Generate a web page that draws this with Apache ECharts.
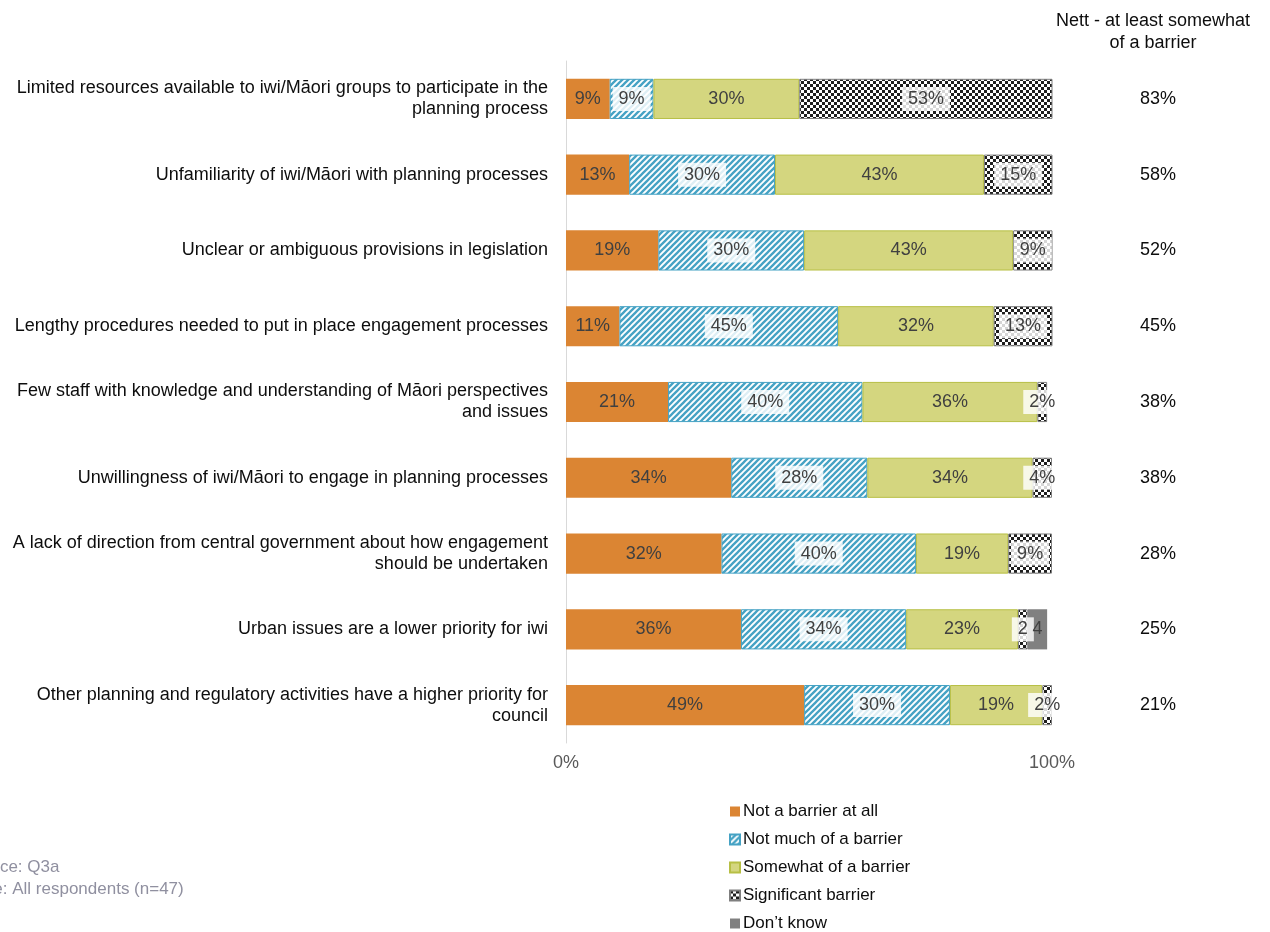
<!DOCTYPE html>
<html>
<head>
<meta charset="utf-8">
<script src="https://cdn.jsdelivr.net/npm/echarts@6/dist/echarts.min.js"></script>
<style>
  html, body { margin: 0; padding: 0; background: #ffffff; }
  #chart { width: 1270px; height: 932px; }
</style>
</head>
<body>
<div id="chart"></div>
<script>
// Barriers to engaging iwi/Māori in planning — share of respondents (%)
const categories = [
  'Limited resources available to iwi/Māori groups to participate in the\nplanning process',
  'Unfamiliarity of iwi/Māori with planning processes',
  'Unclear or ambiguous provisions in legislation',
  'Lengthy procedures needed to put in place engagement processes',
  'Few staff with knowledge and understanding of Māori perspectives\nand issues',
  'Unwillingness of iwi/Māori to engage in planning processes',
  'A lack of direction from central government about how engagement\nshould be undertaken',
  'Urban issues are a lower priority for iwi',
  'Other planning and regulatory activities have a higher priority for\ncouncil'
];
const seriesNames = ['Not a barrier at all', 'Not much of a barrier', 'Somewhat of a barrier', 'Significant barrier', 'Don\u2019t know'];
const notABarrier = [9, 13, 19, 11, 21, 34, 32, 36, 49];
const notMuch     = [9, 30, 30, 45, 40, 28, 40, 34, 30];
const somewhat    = [30, 43, 43, 32, 36, 34, 19, 23, 19];
const significant = [53, 15, 9, 13, 2, 4, 9, 2, 2];
const dontKnow    = [0, 0, 0, 0, 0, 0, 0, 4, 0];
const nett        = [83, 58, 52, 45, 38, 38, 28, 25, 21];
const xTickValues = [0, 100];

// Fill patterns
function stripePattern() {
  const c = document.createElement('canvas');
  c.width = 6; c.height = 6;
  const g = c.getContext('2d');
  g.fillStyle = '#ffffff';
  g.fillRect(0, 0, 6, 6);
  g.strokeStyle = '#45a2c4';
  g.lineWidth = 2.3;
  [[0, 6, 6, 0], [-3, 3, 3, -3], [3, 9, 9, 3]].forEach(function (l) {
    g.beginPath(); g.moveTo(l[0], l[1]); g.lineTo(l[2], l[3]); g.stroke();
  });
  return { image: c, repeat: 'repeat' };
}
function checkerPattern() {
  const c = document.createElement('canvas');
  c.width = 6; c.height = 6;
  const g = c.getContext('2d');
  g.fillStyle = '#ffffff';
  g.fillRect(0, 0, 6, 6);
  g.fillStyle = '#1e1e1e';
  g.fillRect(0, 0, 3, 3);
  g.fillRect(3, 3, 3, 3);
  return { image: c, repeat: 'repeat' };
}

const FONT = 'Liberation Sans, Arial, sans-serif';

function labelText(series, p) {
  if (!p.value) return '';
  // narrow segments next to a "Don't know" segment carry bare numbers
  if ((series === 3 || series === 4) && dontKnow[p.dataIndex] > 0) return String(p.value);
  return p.value + '%';
}

function makeSeries(idx, data, color, border, boxed) {
  return {
    name: seriesNames[idx],
    type: 'bar',
    stack: 'total',
    data: data,
    barWidth: '53%',
    clip: true,
    itemStyle: { color: color, borderColor: border, borderWidth: border ? 1 : 0 },
    label: {
      show: true,
      position: 'inside',
      color: '#404040',
      fontFamily: FONT,
      fontSize: 18,
      backgroundColor: boxed ? 'rgba(255,255,255,0.82)' : 'transparent',
      padding: boxed ? [3, 6] : 0,
      formatter: function (p) { return labelText(idx, p); }
    },
    emphasis: { disabled: true }
  };
}

const chart = echarts.init(document.getElementById('chart'), null, { renderer: 'canvas' });

chart.setOption({
  animation: false,
  backgroundColor: '#ffffff',
  grid: { left: 566, right: 218, top: 61, bottom: 189, containLabel: false },
  xAxis: {
    type: 'value',
    min: xTickValues[0],
    max: xTickValues[xTickValues.length - 1],
    interval: xTickValues[1] - xTickValues[0],
    axisLine: { show: false },
    axisTick: { show: false },
    splitLine: { show: false },
    axisLabel: { formatter: '{value}%', color: '#595959', fontFamily: FONT, fontSize: 18, margin: 11 }
  },
  yAxis: [
    {
      type: 'category',
      data: categories,
      inverse: true,
      axisLine: { show: true, lineStyle: { color: '#d9d9d9', width: 1 } },
      axisTick: { show: false },
      axisLabel: { color: '#0d0d0d', fontFamily: FONT, fontSize: 18, lineHeight: 21, margin: 18, align: 'right', padding: [5, 0, 0, 0] }
    },
    {
      type: 'category',
      data: nett.map(function (v) { return v + '%'; }),
      inverse: true,
      position: 'right',
      axisLine: { show: false },
      axisTick: { show: false },
      axisLabel: { color: '#0d0d0d', fontFamily: FONT, fontSize: 18, margin: 106, align: 'center' }
    }
  ],
  legend: {
    orient: 'vertical',
    left: 729,
    top: 803,
    height: 150,
    padding: 0,
    itemWidth: 10,
    itemHeight: 10,
    itemGap: 11,
    icon: 'rect',
    data: seriesNames,
    textStyle: { color: '#0d0d0d', fontFamily: FONT, fontSize: 17, padding: [0, 0, 0, -2] },
    selectedMode: false
  },
  graphic: [
    {
      type: 'text', x: 1153, y: 10,
      style: { text: 'Nett - at least somewhat\nof a barrier', align: 'center', lineHeight: 22, fill: '#0d0d0d', font: '18px ' + FONT }
    },
    {
      type: 'text', x: -36, y: 856,
      style: { text: 'Source: Q3a\nBase: All respondents (n=47)', align: 'left', lineHeight: 22, fill: '#9090a0', font: '17px ' + FONT }
    }
  ],
  series: [
    makeSeries(0, notABarrier, '#db8533', null, false),
    makeSeries(1, notMuch, stripePattern(), '#45a2c4', true),
    makeSeries(2, somewhat, '#d4d67f', '#b7bf45', false),
    makeSeries(3, significant, checkerPattern(), '#7f7f7f', true),
    makeSeries(4, dontKnow, '#808080', null, false)
  ]
});
</script>
</body>
</html>
